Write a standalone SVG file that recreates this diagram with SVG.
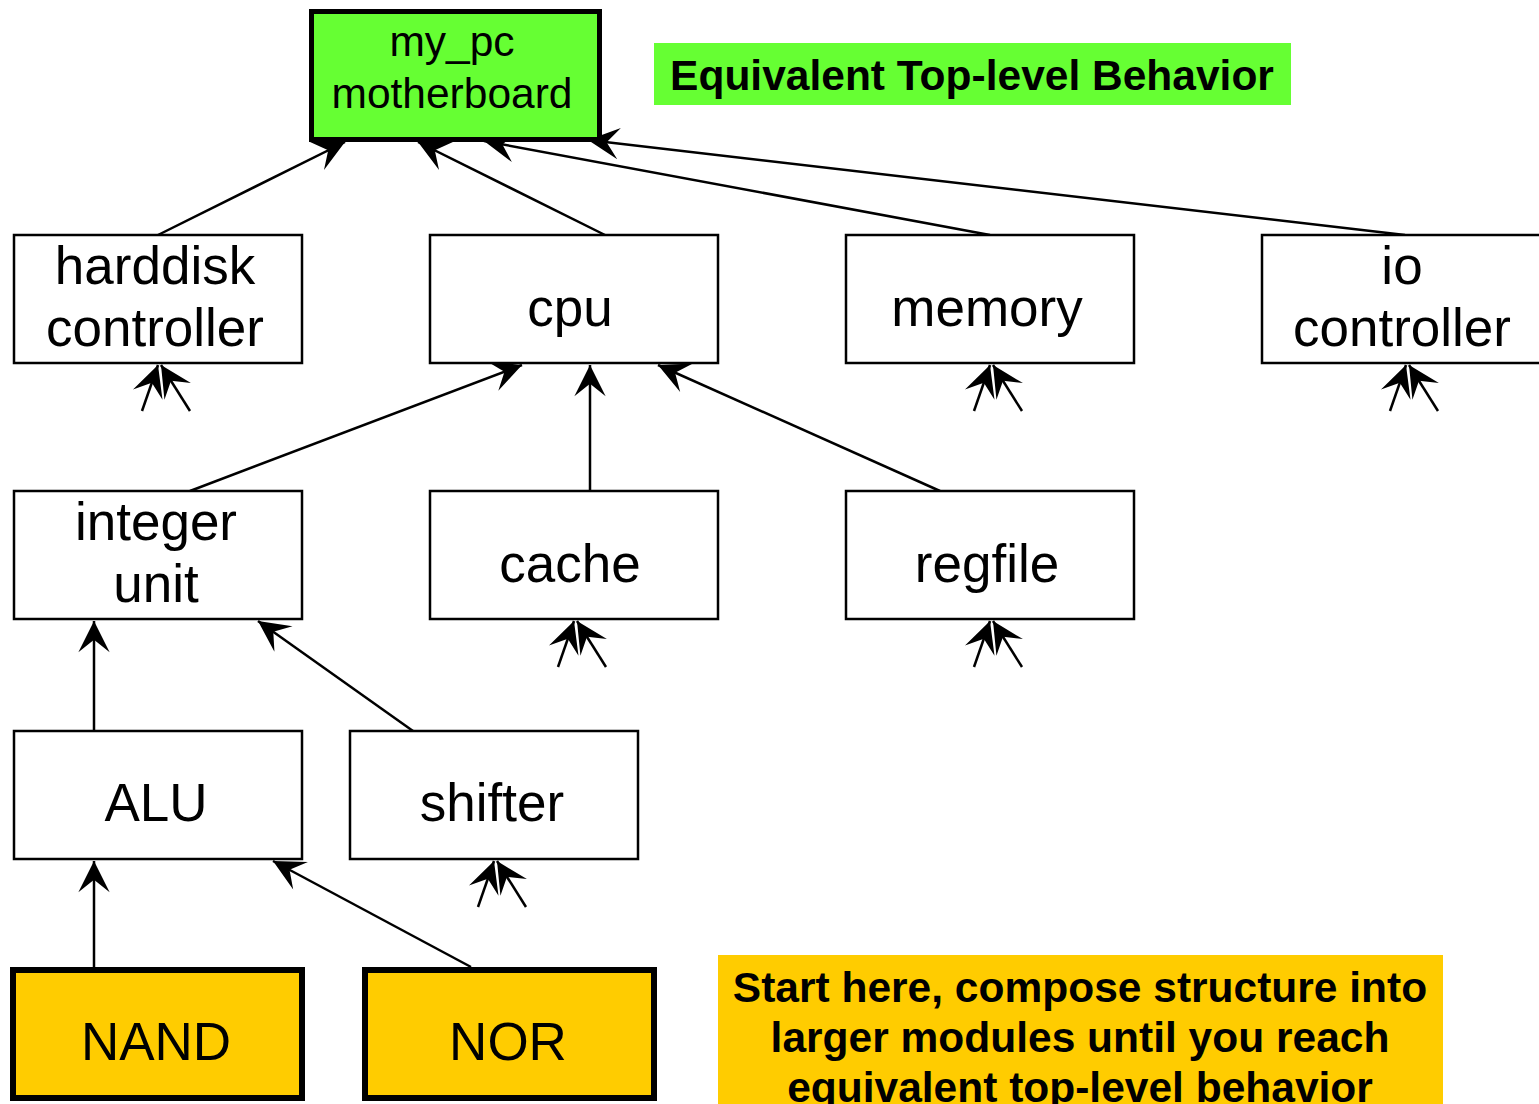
<svg xmlns="http://www.w3.org/2000/svg" width="1539" height="1104" viewBox="0 0 1539 1104">
<style>
.box{fill:#fff;stroke:#000;stroke-width:2.5}
.lt{fill:#000;font-family:"Liberation Sans",Arial,sans-serif;font-size:53px;text-anchor:middle}
.sm{font-size:42.5px}
.bold{font-family:"Liberation Sans",Arial,sans-serif;font-weight:bold;font-size:42.5px;text-anchor:middle;fill:#000}
.c{stroke:#000;stroke-width:2.5;fill:none;marker-end:url(#ah)}
</style>
<defs>
<marker id="ah" markerUnits="userSpaceOnUse" orient="auto" refX="0" refY="0" markerWidth="40" markerHeight="40" viewBox="-30 -15 32 30" overflow="visible">
<path d="M0,0 L-25,-12.5 L-15,0 L-25,12.5 Z" fill="#000"/>
</marker>
</defs>
<rect width="1539" height="1104" fill="#fff"/>
<g id="connectors">
<line class="c" x1="158" y1="235" x2="345" y2="142"/>
<line class="c" x1="605" y1="235" x2="418" y2="142"/>
<line class="c" x1="990" y1="235" x2="484" y2="141"/>
<line class="c" x1="1405" y1="235" x2="588" y2="140"/>
<line class="c" x1="190" y1="491" x2="522" y2="365"/>
<line class="c" x1="590" y1="491" x2="590" y2="365"/>
<line class="c" x1="940" y1="491" x2="658" y2="365"/>
<line class="c" x1="94" y1="731" x2="94" y2="621"/>
<line class="c" x1="413" y1="731" x2="258" y2="621"/>
<line class="c" x1="94" y1="967" x2="94" y2="861"/>
<line class="c" x1="471" y1="967" x2="273" y2="861"/>
<line class="c" x1="142" y1="411" x2="158" y2="365"/>
<line class="c" x1="190" y1="411" x2="161" y2="365"/>
<line class="c" x1="974" y1="411" x2="990" y2="365"/>
<line class="c" x1="1022" y1="411" x2="993" y2="365"/>
<line class="c" x1="1390" y1="411" x2="1406" y2="365"/>
<line class="c" x1="1438" y1="411" x2="1409" y2="365"/>
<line class="c" x1="558" y1="667" x2="574" y2="621"/>
<line class="c" x1="606" y1="667" x2="577" y2="621"/>
<line class="c" x1="974" y1="667" x2="990" y2="621"/>
<line class="c" x1="1022" y1="667" x2="993" y2="621"/>
<line class="c" x1="478" y1="907" x2="494" y2="861"/>
<line class="c" x1="526" y1="907" x2="497" y2="861"/>
</g>
<g id="mypc">
<rect x="311.5" y="11.5" width="288" height="128" fill="#66ff33" stroke="#000" stroke-width="5"/>
<text class="lt sm" x="452" y="56">my_pc</text>
<text class="lt sm" x="452" y="108">motherboard</text>
</g>
<g id="label-top">
<rect x="654" y="43" width="637" height="62" fill="#66ff33"/>
<text class="bold" x="972" y="90">Equivalent Top-level Behavior</text>
</g>
<g id="harddisk">
<rect class="box" x="14" y="235" width="288" height="128"/>
<text class="lt" x="155" y="284">harddisk</text>
<text class="lt" x="155" y="346">controller</text>
</g>
<g id="cpu">
<rect class="box" x="430" y="235" width="288" height="128"/>
<text class="lt" x="570" y="326">cpu</text>
</g>
<g id="memory">
<rect class="box" x="846" y="235" width="288" height="128"/>
<text class="lt" x="987" y="326">memory</text>
</g>
<g id="io">
<rect class="box" x="1262" y="235" width="288" height="128"/>
<text class="lt" x="1402" y="284">io</text>
<text class="lt" x="1402" y="346">controller</text>
</g>
<g id="integer">
<rect class="box" x="14" y="491" width="288" height="128"/>
<text class="lt" x="156" y="540">integer</text>
<text class="lt" x="156" y="602">unit</text>
</g>
<g id="cache">
<rect class="box" x="430" y="491" width="288" height="128"/>
<text class="lt" x="570" y="582">cache</text>
</g>
<g id="regfile">
<rect class="box" x="846" y="491" width="288" height="128"/>
<text class="lt" x="987" y="582">regfile</text>
</g>
<g id="alu">
<rect class="box" x="14" y="731" width="288" height="128"/>
<text class="lt" x="156" y="821">ALU</text>
</g>
<g id="shifter">
<rect class="box" x="350" y="731" width="288" height="128"/>
<text class="lt" x="492" y="821">shifter</text>
</g>
<g id="nand">
<rect x="13" y="970" width="289" height="128" fill="#ffcc00" stroke="#000" stroke-width="6"/>
<text class="lt" x="156" y="1060">NAND</text>
</g>
<g id="nor">
<rect x="365" y="970" width="289" height="128" fill="#ffcc00" stroke="#000" stroke-width="6"/>
<text class="lt" x="508" y="1060">NOR</text>
</g>
<g id="label-bottom">
<rect x="718" y="955" width="725" height="160" fill="#ffcc00"/>
<text class="bold" x="1080" y="1002">Start here, compose structure into</text>
<text class="bold" x="1080" y="1052">larger modules until you reach</text>
<text class="bold" x="1080" y="1102">equivalent top-level behavior</text>
</g>
</svg>
